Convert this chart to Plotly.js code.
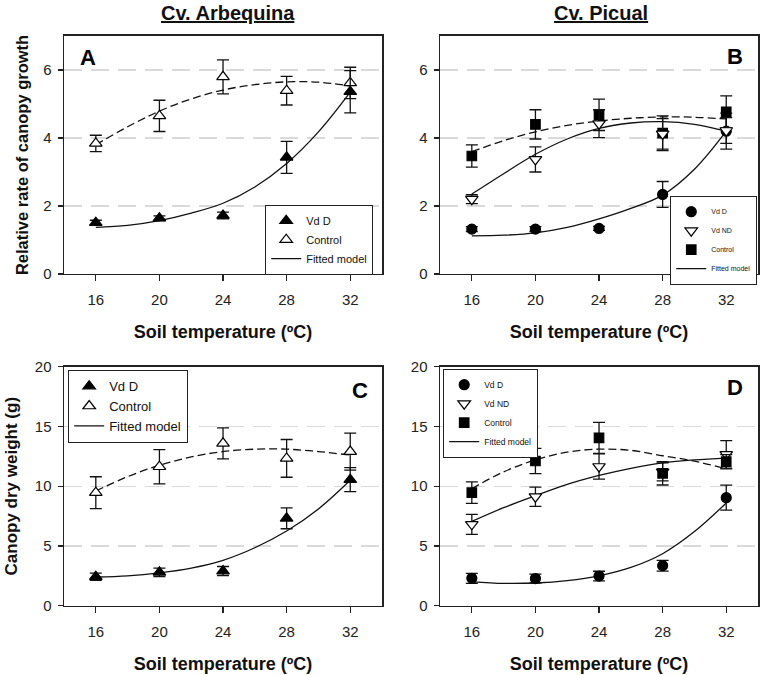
<!DOCTYPE html>
<html>
<head>
<meta charset="utf-8">
<script src="https://cdn.plot.ly/plotly-3.0.1.min.js"></script>
<style>html,body{margin:0;padding:0;background:#fff;}#chart{width:763px;height:675px;}</style>
</head>
<body>
<div id="chart"></div>
<script>
// ---------- data ----------
const temps = [16, 20, 24, 28, 32];
const tempsFit = [16, 18, 20, 22, 24, 26, 28, 30, 32];

// Panel A: Arbequina, relative rate of canopy growth
const aVdD = [1.51, 1.64, 1.72, 3.43, 5.36];
const aVdDErr = [0.07, 0.07, 0.10, 0.47, 0.62];
const aCtrl = [3.84, 4.65, 5.80, 5.39, 5.62];
const aCtrlErr = [0.24, 0.46, 0.50, 0.42, 0.46];
const aVdDFit = [1.37, 1.43, 1.57, 1.79, 2.08, 2.56, 3.25, 4.18, 5.35];
const aCtrlFit = [3.80, 4.33, 4.79, 5.15, 5.41, 5.57, 5.65, 5.64, 5.53];

// Panel B: Picual, relative rate of canopy growth
const bVdD = [1.32, 1.32, 1.34, 2.34, 4.20];
const bVdDErr = [0.07, 0.07, 0.06, 0.38, 0.53];
const bVdND = [2.20, 3.37, 4.42, 4.12, 4.22];
const bVdNDErr = [0.13, 0.37, 0.41, 0.45, 0.38];
const bCtrl = [3.47, 4.40, 4.68, 4.14, 4.77];
const bCtrlErr = [0.33, 0.43, 0.46, 0.51, 0.47];
const bVdDFit = [1.12, 1.14, 1.21, 1.37, 1.62, 1.93, 2.32, 3.08, 4.20];
const bVdNDFit = [2.35, 2.95, 3.52, 3.97, 4.28, 4.44, 4.48, 4.40, 4.20];
const bCtrlFit = [3.60, 3.92, 4.18, 4.37, 4.50, 4.58, 4.62, 4.61, 4.56];

// Panel C: Arbequina, canopy dry weight
const cVdD = [2.43, 2.79, 2.90, 7.31, 10.55];
const cVdDErr = [0.30, 0.35, 0.38, 0.87, 1.00];
const cCtrl = [9.46, 11.63, 13.59, 12.33, 12.90];
const cCtrlErr = [1.33, 1.43, 1.30, 1.58, 1.55];
const cVdDFit = [2.40, 2.50, 2.75, 3.15, 3.80, 4.85, 6.25, 8.10, 10.50];
const cCtrlFit = [9.60, 10.80, 11.75, 12.45, 12.90, 13.10, 13.10, 12.90, 12.60];

// Panel D: Picual, canopy dry weight
const dVdD = [2.29, 2.27, 2.48, 3.35, 9.04];
const dVdDErr = [0.42, 0.37, 0.40, 0.45, 1.05];
const dVdND = [6.81, 9.12, 11.65, 11.20, 12.66];
const dVdNDErr = [0.84, 0.80, 1.05, 0.75, 1.15];
const dCtrl = [9.46, 12.11, 14.05, 11.08, 12.05];
const dCtrlErr = [0.90, 1.05, 1.30, 0.98, 0.60];
const dVdDFit = [2.00, 1.87, 1.90, 2.10, 2.50, 3.20, 4.35, 6.20, 8.60];
const dVdNDFit = [7.05, 8.20, 9.20, 10.15, 10.90, 11.50, 11.95, 12.20, 12.35];
const dCtrlFit = [9.80, 11.20, 12.20, 12.85, 13.10, 13.00, 12.55, 12.10, 11.45];

const xTicks = [16, 20, 24, 28, 32];
const yTicksRate = [0, 2, 4, 6];
const yTicksWeight = [0, 5, 10, 15, 20];

// ---------- helpers ----------
const FONT = 'Liberation Sans, Arial, sans-serif';
function fitTrace(y, xa, ya, dashed, leg, showleg) {
  return {x: tempsFit, y: y, xaxis: xa, yaxis: ya, mode: 'lines', type: 'scatter',
    line: {color: '#111', width: 1.3, shape: 'spline', smoothing: 1.0, dash: dashed ? '8px,4px' : 'solid'},
    name: 'Fitted model', legend: leg, showlegend: showleg, legendrank: 4, hoverinfo: 'skip'};
}
function ptTrace(y, err, xa, ya, name, symbol, filled, size, leg, rank) {
  return {x: temps, y: y, xaxis: xa, yaxis: ya, mode: 'markers', type: 'scatter', name: name,
    legend: leg, legendrank: rank,
    marker: {symbol: symbol, size: size, color: filled ? '#000' : '#fff', line: {color: '#000', width: 1.2}},
    error_y: {type: 'data', array: err, visible: true, color: '#111', thickness: 1.3, width: 6}};
}

const data = [
  // A
  fitTrace(aCtrlFit, 'x', 'y', true, 'legend', false),
  fitTrace(aVdDFit, 'x', 'y', false, 'legend', true),
  ptTrace(aCtrl, aCtrlErr, 'x', 'y', 'Control', 'triangle-up', false, 11, 'legend', 2),
  ptTrace(aVdD, aVdDErr, 'x', 'y', 'Vd D', 'triangle-up', true, 11, 'legend', 1),
  // B
  fitTrace(bCtrlFit, 'x2', 'y2', true, 'legend2', false),
  fitTrace(bVdNDFit, 'x2', 'y2', false, 'legend2', false),
  fitTrace(bVdDFit, 'x2', 'y2', false, 'legend2', true),
  ptTrace(bVdD, bVdDErr, 'x2', 'y2', 'Vd D', 'circle', true, 10, 'legend2', 1),
  ptTrace(bCtrl, bCtrlErr, 'x2', 'y2', 'Control', 'square', true, 9.5, 'legend2', 3),
  ptTrace(bVdND, bVdNDErr, 'x2', 'y2', 'Vd ND', 'triangle-down', false, 11, 'legend2', 2),
  // C
  fitTrace(cCtrlFit, 'x3', 'y3', true, 'legend3', false),
  fitTrace(cVdDFit, 'x3', 'y3', false, 'legend3', true),
  ptTrace(cCtrl, cCtrlErr, 'x3', 'y3', 'Control', 'triangle-up', false, 11, 'legend3', 2),
  ptTrace(cVdD, cVdDErr, 'x3', 'y3', 'Vd D', 'triangle-up', true, 11, 'legend3', 1),
  // D
  fitTrace(dCtrlFit, 'x4', 'y4', true, 'legend4', false),
  fitTrace(dVdNDFit, 'x4', 'y4', false, 'legend4', false),
  fitTrace(dVdDFit, 'x4', 'y4', false, 'legend4', true),
  ptTrace(dVdD, dVdDErr, 'x4', 'y4', 'Vd D', 'circle', true, 10, 'legend4', 1),
  ptTrace(dVdND, dVdNDErr, 'x4', 'y4', 'Vd ND', 'triangle-down', false, 11, 'legend4', 2),
  ptTrace(dCtrl, dCtrlErr, 'x4', 'y4', 'Control', 'square', true, 9.5, 'legend4', 3)
];

function xAx(domain, anchor, titleStandoff) {
  return {domain: domain, anchor: anchor, range: [14, 34], tickvals: xTicks,
    showline: true, mirror: true, linecolor: '#222', linewidth: 1.5,
    ticks: 'outside', ticklen: 6, tickwidth: 1.2, tickcolor: '#222', ticklabelstandoff: 6,
    showgrid: false, zeroline: false,
    tickfont: {family: FONT, size: 15, color: '#222'},
    title: {text: '<b>Soil temperature (ºC)</b>', font: {family: FONT, size: 18, color: '#111'}, standoff: titleStandoff}};
}
function yAx(domain, anchor, range, ticks, title, tsize, standoff) {
  return {domain: domain, anchor: anchor, range: range, tickvals: ticks,
    showline: true, mirror: true, linecolor: '#222', linewidth: 1.5,
    ticks: 'outside', ticklen: 5, tickwidth: 1.2, tickcolor: '#222', ticklabelstandoff: 3,
    showgrid: true, gridcolor: '#dadada', gridwidth: 1.2, griddash: '18px,9px', zeroline: false,
    tickfont: {family: FONT, size: 15, color: '#222'},
    title: title ? {text: '<b>' + title + '</b>', font: {family: FONT, size: tsize, color: '#111'}, standoff: standoff} : {text: ''}};
}

const xdL = [0.0839, 0.5007], xdR = [0.5767, 0.9935];
const ydT = [0.5941, 0.9467], ydB = [0.1027, 0.4567];

function legendCfg(x, y, xanchor, size) {
  return {x: x, y: y, xanchor: xanchor, yanchor: 'top', xref: 'paper', yref: 'paper',
    bgcolor: '#fff', bordercolor: '#222', borderwidth: 1.2,
    font: {family: FONT, size: size, color: '#111'}, traceorder: 'normal'};
}

const layout = {
  width: 763, height: 675,
  margin: {l: 0, r: 0, t: 0, b: 0},
  paper_bgcolor: '#fff', plot_bgcolor: '#fff',
  showlegend: true,
  xaxis: xAx(xdL, 'y', 18),
  yaxis: yAx(ydT, 'x', [0, 7], yTicksRate, 'Relative rate of canopy growth', 16.5, 10),
  xaxis2: xAx(xdR, 'y2', 18),
  yaxis2: yAx(ydT, 'x2', [0, 7], yTicksRate, null),
  xaxis3: xAx(xdL, 'y3', 18),
  yaxis3: yAx(ydB, 'x3', [0, 20], yTicksWeight, 'Canopy dry weight (g)', 17, 13),
  xaxis4: xAx(xdR, 'y4', 18),
  yaxis4: yAx(ydB, 'x4', [0, 20], yTicksWeight, null),
  legend: legendCfg(0.3473, 0.6963, 'left', 11),
  legend2: legendCfg(0.9922, 0.7096, 'right', 7),
  legend3: legendCfg(0.0891, 0.4519, 'left', 13),
  legend4: legendCfg(0.5806, 0.4533, 'left', 8.5),
  annotations: [
    {text: '<b><u>Cv. Arbequina</u></b>', xref: 'paper', yref: 'paper', x: 228/763, y: 1 - 13/675, xanchor: 'center', yanchor: 'middle', showarrow: false, font: {family: FONT, size: 20, color: '#111'}},
    {text: '<b><u>Cv. Picual</u></b>', xref: 'paper', yref: 'paper', x: 601/763, y: 1 - 13/675, xanchor: 'center', yanchor: 'middle', showarrow: false, font: {family: FONT, size: 20, color: '#111'}},
    {text: '<b>A</b>', xref: 'paper', yref: 'paper', x: 87.5/763, y: 1 - 57.5/675, xanchor: 'center', yanchor: 'middle', showarrow: false, font: {family: FONT, size: 22, color: '#000'}},
    {text: '<b>B</b>', xref: 'paper', yref: 'paper', x: 735/763, y: 1 - 56.5/675, xanchor: 'center', yanchor: 'middle', showarrow: false, font: {family: FONT, size: 22, color: '#000'}},
    {text: '<b>C</b>', xref: 'paper', yref: 'paper', x: 360/763, y: 1 - 390.5/675, xanchor: 'center', yanchor: 'middle', showarrow: false, font: {family: FONT, size: 22, color: '#000'}},
    {text: '<b>D</b>', xref: 'paper', yref: 'paper', x: 735/763, y: 1 - 387.5/675, xanchor: 'center', yanchor: 'middle', showarrow: false, font: {family: FONT, size: 22, color: '#000'}}
  ]
};

Plotly.newPlot('chart', data, layout, {displayModeBar: false, staticPlot: true});
</script>
</body>
</html>
